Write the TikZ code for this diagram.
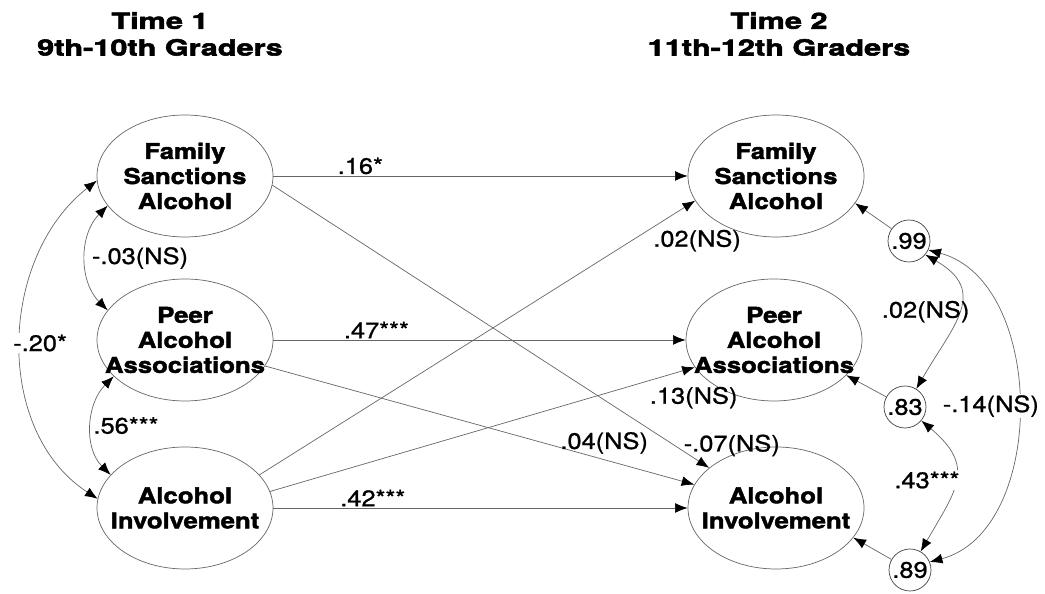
\documentclass[tikz,border=0pt]{standalone}
\usepackage{fontspec}
\setmainfont{TeX Gyre Heros}
\newfontfamily\headfont{TeX Gyre Heros}[FakeStretch=1.38,FakeBold=2.5]
\newfontfamily\varfont{TeX Gyre Heros}[FakeStretch=1.18,FakeBold=2]
\newfontfamily\numfont{TeX Gyre Heros}[FakeStretch=1.13,FakeBold=1]
\usetikzlibrary{arrows.meta,shapes.geometric}

\begin{document}
\begin{tikzpicture}[
		heading/.style={align=center, font=\headfont\bfseries\fontsize{15.8}{19}\selectfont},
		latent/.style={ellipse, draw=black!60, line width=0.5pt, minimum width=4.4cm, minimum height=3.05cm,
			inner xsep=-15pt, inner ysep=0pt, align=center, font=\varfont\bfseries\fontsize{15.5}{17.8}\selectfont},
		resid/.style={circle, draw=black!75, line width=0.5pt, minimum size=1.05cm, inner sep=0pt,
			font=\numfont\fontsize{16}{18}\selectfont},
		coef/.style={font=\numfont\fontsize{16}{18}\selectfont, inner sep=1pt},
		effect/.style={draw=black!60, line width=0.5pt, -{Latex[length=9pt,width=7pt,color=black]}},
		covar/.style={draw=black!60, line width=0.5pt, {Latex[length=9pt,width=7pt,color=black]}-{Latex[length=9pt,width=7pt,color=black]}},
	]
		\useasboundingbox (0,0) rectangle (26.125,14.85);

		\draw (4.0,14.0) node [heading] (t1) {Time 1\\9th-10th Graders};
		\draw (19.475,14.0) node [heading] (t2) {Time 2\\11th-12th Graders};

		\draw (4.625,10.45) node [latent] (f1) {Family\\Sanctions\\Alcohol};
		\draw (4.625,6.35) node [latent] (p1) {Peer\\Alcohol\\Associations};
		\draw (4.625,2.15) node [latent] (a1) {Alcohol\\Involvement};
		\draw (19.4,10.45) node [latent] (f2) {Family\\Sanctions\\Alcohol};
		\draw (19.35,6.35) node [latent] (p2) {Peer\\Alcohol\\Associations};
		\draw (19.4,2.15) node [latent] (a2) {Alcohol\\Involvement};

		\draw (22.725,8.825) node [resid] (r1) {.99};
		\draw (22.625,4.675) node [resid] (r2) {.83};
		\draw (22.75,0.6) node [resid] (r3) {.89};

		\draw
			(f1.east) edge [effect] node [coef, above, pos=0.21] {.16*} (f2.west)
			(p1.east) edge [effect] node [coef, above, pos=0.25] {.47***} (p2.west)
			(a1.east) edge [effect] node [coef, above, pos=0.24] {.42***} (a2.west)
			(f1.-6) edge [effect] node [coef, pos=0.97, anchor=south west, xshift=-10pt, yshift=1pt] {-.07(NS)} (a2.149)
			(p1.-18) edge [effect] node [coef, pos=0.79, above, yshift=3pt] {.04(NS)} (a2.164)
			(a1.24) edge [effect] node [coef, pos=0.9, anchor=north west] {.02(NS)} (f2.197)
			(a1.11) edge [effect] node [coef, pos=0.89, anchor=north west, yshift=-3pt] {.13(NS)} (p2.-161)
			(r1) edge [effect] (f2.-19)
			(r2) edge [effect] (p2.-26)
			(r3) edge [effect] (a2.-21)
			(f1.201) edge [covar, out=225, in=135] node [coef, right, xshift=3pt] {-.03(NS)} (p1.159)
			(p1.207) edge [covar, out=225, in=135] node [coef, right] {.56***} (a1.156)
			(f1.183) edge [covar, out=218, in=147] node [coef, fill=white, anchor=west, xshift=-7pt] {-.20*} (a1.174)
			(r1.-40) edge [covar, out=-30, in=60, looseness=1.4] node [coef, anchor=east, xshift=9pt] {.02(NS)} (r2.58)
			(r2.-40) edge [covar, out=-40, in=60, looseness=1.4] node [coef, fill=white, xshift=-20pt] {.43***} (r3.60)
			(r1.-25) edge [covar, out=-15, in=15] node [coef, fill=white, xshift=-19pt] {-.14(NS)} (r3.22)
		;
	\end{tikzpicture}
\end{document}
